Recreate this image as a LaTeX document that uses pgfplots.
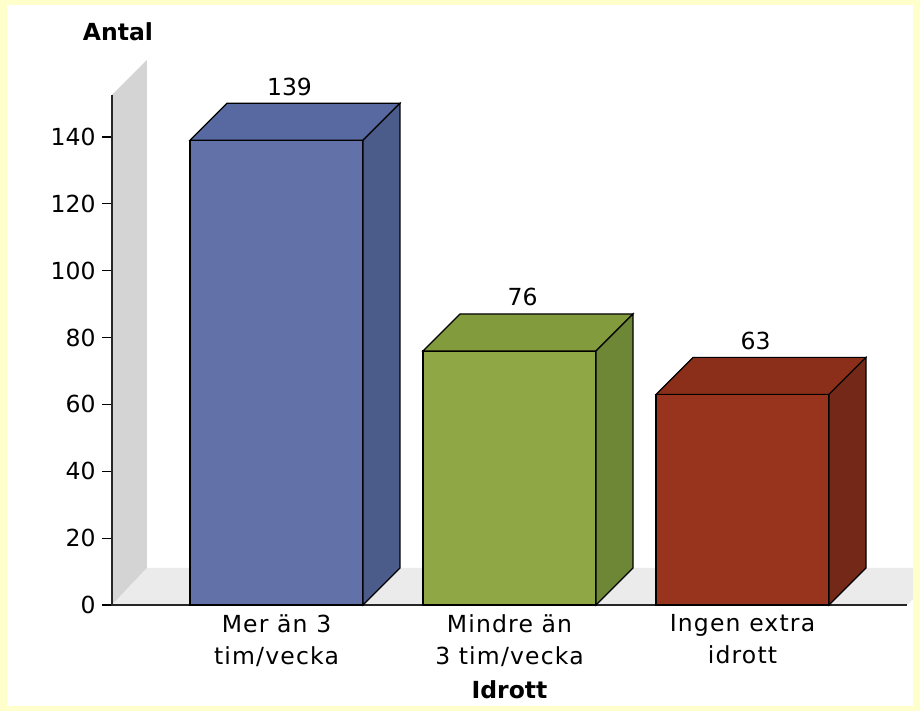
\documentclass[border=0pt]{standalone}
\usepackage{pgfplots}
\pgfplotsset{compat=1.18}
\usepackage{fontspec}
\setmainfont{DejaVu Sans}
\newfontfamily\lblfont[LetterSpace=5]{DejaVu Sans}
\definecolor{bordercol}{HTML}{FFFFCC}
\definecolor{wallcol}{HTML}{D4D4D4}
\definecolor{floorcol}{HTML}{EBEBEB}
\definecolor{bluef}{HTML}{6272A8}
\definecolor{bluet}{HTML}{5769A0}
\definecolor{blues}{HTML}{4B5B8A}
\definecolor{greenf}{HTML}{8FA845}
\definecolor{greent}{HTML}{829C3D}
\definecolor{greens}{HTML}{6E8736}
\definecolor{redf}{HTML}{98341E}
\definecolor{redt}{HTML}{8B2F1A}
\definecolor{reds}{HTML}{742918}
\begin{document}
\begin{tikzpicture}
\fill[bordercol] (0,0) rectangle (920bp,711bp);
\fill[white] (7bp,5bp) rectangle (913bp,706bp);
\begin{axis}[
  at={(112bp,106bp)}, anchor=south west,
  scale only axis, width=795bp, height=545bp,
  xmin=-0.706, xmax=2.706, ymin=0, ymax=163.03,
  clip=false,
  axis line style={draw=none},
  ytick={0,20,...,140}, ytick pos=left,
  tick align=outside, major tick length=10bp,
  y tick style={draw=black, line width=1.2bp},
  xtick={0,1,2}, x tick style={draw=none},
  xticklabels={{Mer än 3\\tim/vecka},{Mindre än\\3 tim/vecka},{Ingen extra\\idrott}},
  xticklabel style={align=center, font=\lblfont\fontsize{23.5bp}{32bp}\selectfont, yshift=4bp},
  yticklabel style={font=\fontsize{23.5bp}{26bp}\selectfont, xshift=-3bp},
  /pgf/number format/assume math mode=true,
  extra description/.code={
    \node[font=\bfseries\fontsize{23.5bp}{26bp}\selectfont] at (axis description cs:0,1) [xshift=6bp, yshift=28bp] {Antal};
    \node[font=\bfseries\fontsize{23.5bp}{26bp}\selectfont] at (axis description cs:0.5,0) [yshift=-85bp] {Idrott};
  },
]
% wall and floor
\addplot[fill=wallcol, draw=none] coordinates {(-0.706,0) (-0.706,152.56) (-0.5558,163.03) (-0.5558,11.07)} --cycle;
\addplot[fill=floorcol, draw=none] coordinates {(-0.706,0) (-0.5558,11.07) (2.7318,11.07) (2.7318,1.795) (2.706,0)} --cycle;
% axis lines
\addplot[draw=black!85, line width=1.5bp] coordinates {(-0.706,152.56) (-0.706,0) (2.706,0)};
% value-label style
\pgfplotsset{every node near coord/.style={anchor=south, xshift=13bp, yshift=41bp, font=\fontsize{23.5bp}{26bp}\selectfont, text=black}}
% bar 1
\addplot[ybar, bar width=0.7425, bar shift=0pt, fill=bluef, draw=black, line width=1.2bp, nodes near coords] coordinates {(0,139)};
\addplot[fill=bluet, draw=black, line width=1.2bp] coordinates {(-0.3712,139) (-0.2124,150.07) (0.53,150.07) (0.3712,139)} --cycle;
\addplot[fill=blues, draw=black, line width=1.2bp] coordinates {(0.3712,0) (0.3712,139) (0.53,150.07) (0.53,11.07)} --cycle;
% bar 2
\addplot[ybar, bar width=0.7425, bar shift=0pt, fill=greenf, draw=black, line width=1.2bp, nodes near coords] coordinates {(1,76)};
\addplot[fill=greent, draw=black, line width=1.2bp] coordinates {(0.6288,76) (0.7876,87.07) (1.53,87.07) (1.3712,76)} --cycle;
\addplot[fill=greens, draw=black, line width=1.2bp] coordinates {(1.3712,0) (1.3712,76) (1.53,87.07) (1.53,11.07)} --cycle;
% bar 3
\addplot[ybar, bar width=0.7425, bar shift=0pt, fill=redf, draw=black, line width=1.2bp, nodes near coords] coordinates {(2,63)};
\addplot[fill=redt, draw=black, line width=1.2bp] coordinates {(1.6288,63) (1.7876,74.07) (2.53,74.07) (2.3712,63)} --cycle;
\addplot[fill=reds, draw=black, line width=1.2bp] coordinates {(2.3712,0) (2.3712,63) (2.53,74.07) (2.53,11.07)} --cycle;
\end{axis}
\end{tikzpicture}
\end{document}
